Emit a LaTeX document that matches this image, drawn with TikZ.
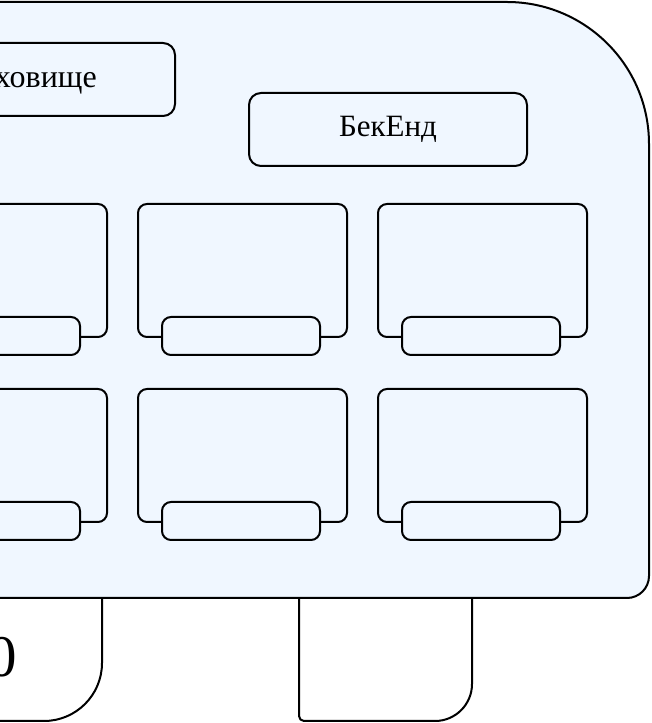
\documentclass[tikz,border=0pt]{standalone}
\usepackage{fontspec}
\setmainfont{Liberation Serif}
\definecolor{panel}{RGB}{240,247,255}
\begin{document}
\begin{tikzpicture}[x=1pt,y=1pt,
  ln/.style={draw=black,line width=2pt,line join=round},
  card/.style={ln,fill=panel,rectangle,rounded corners=9pt,inner sep=0pt,minimum width=209pt,minimum height=133pt},
  slot/.style={ln,fill=panel,rectangle,rounded corners=9pt,inner sep=0pt,minimum width=158pt,minimum height=38pt},
  head/.style={ln,fill=panel,rectangle,rounded corners=12pt,inner sep=0pt,minimum height=73pt}]
\useasboundingbox (0,0) rectangle (651,723);
\clip (0,0) rectangle (651,723);
\fill[white] (0,0) rectangle (651,723);
% tabs below the panel
\draw[ln,fill=white] (-300,125) -- (102,125) -- (102,60) arc[start angle=0,end angle=-90,radius=58] -- (-300,2) -- cycle;
\draw[ln,fill=white] (299,125) -- (299,7) arc[start angle=180,end angle=270,radius=5] -- (435,2) arc[start angle=-90,end angle=0,radius=37] -- (472,125);
\node[anchor=base,inner sep=0pt,font=\fontsize{59}{59}\selectfont] (tabtext) at (2,46) {0};
% main panel
\draw[ln,fill=panel] (-300,721) -- (507,721) arc[start angle=90,end angle=0,radius=142] -- (649,147) arc[start angle=0,end angle=-90,radius=22] -- (-300,125) -- cycle;
% header boxes
\node[head,minimum width=292pt] (storage) at (29,643.5) {};
\node[anchor=base east,inner sep=0pt,font=\fontsize{32}{32}\selectfont] (storagetext) at (97,635) {Сховище};
\node[head,minimum width=278pt,font=\fontsize{31}{31}\selectfont] (backend) at (388,593.5) {БекЕнд};
% cards
\foreach \i/\cx in {1/2.5,2/242.5,3/482.5}{
  \node[card] (c1\i) at (\cx,452.5) {};
  \node[slot] (s1\i) at (\cx-1.5,387) {};
  \node[card] (c2\i) at (\cx,267.5) {};
  \node[slot] (s2\i) at (\cx-1.5,202) {};
}
\end{tikzpicture}
\end{document}
